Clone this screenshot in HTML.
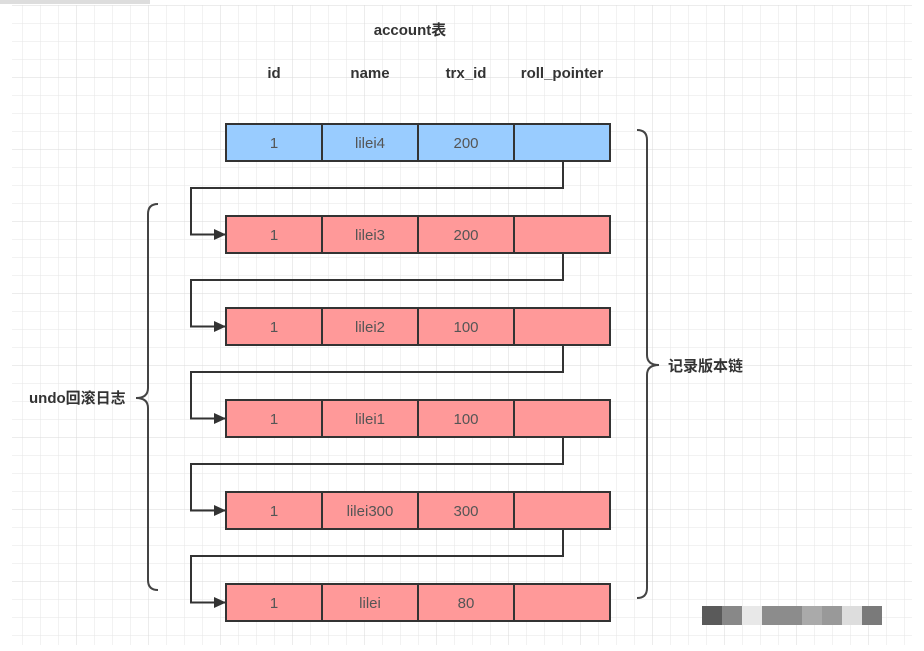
<!DOCTYPE html>
<html><head><meta charset="utf-8"><style>
html,body{margin:0;padding:0;background:#fff;}
svg{display:block;}
text{font-family:"Liberation Sans","Noto Sans CJK SC",sans-serif;}
</style></head><body>
<svg width="924" height="651" viewBox="0 0 924 651" xmlns="http://www.w3.org/2000/svg">
<defs>
<pattern id="g" x="4" y="5" width="18" height="18" patternUnits="userSpaceOnUse">
<path d="M0 0H18M0 0V18" stroke="#e6e6e6" stroke-width="1" fill="none"/>
</pattern>
<pattern id="G" x="4" y="5" width="72" height="72" patternUnits="userSpaceOnUse">
<path d="M0 0H72M0 0V72" stroke="#dadada" stroke-width="1" fill="none"/>
</pattern>
<marker id="a" markerWidth="12" markerHeight="12" refX="11" refY="6" orient="auto" markerUnits="userSpaceOnUse">
<path d="M0 0.5L12 6L0 11.5Z" fill="#333"/>
</marker>
</defs>
<rect x="12" y="5" width="900" height="640" fill="url(#g)"/>
<rect x="12" y="5" width="900" height="640" fill="url(#G)"/>
<rect x="0" y="0" width="150" height="4" fill="#ddd"/>
<text x="410" y="35" font-size="15" font-weight="bold" fill="#333" text-anchor="middle">account表</text>
<g font-size="15" font-weight="bold" fill="#333" text-anchor="middle">
<text x="274" y="78">id</text><text x="370" y="78">name</text><text x="466" y="78">trx_id</text><text x="562" y="78">roll_pointer</text>
</g>
<g stroke="#333" stroke-width="2">
<rect x="226" y="124" width="96" height="37" fill="#99ccff"/><rect x="322" y="124" width="96" height="37" fill="#99ccff"/><rect x="418" y="124" width="96" height="37" fill="#99ccff"/><rect x="514" y="124" width="96" height="37" fill="#99ccff"/>
</g>
<g font-size="15" fill="#555" text-anchor="middle">
<text x="274" y="148">1</text><text x="370" y="148">lilei4</text><text x="466" y="148">200</text>
</g>
<g stroke="#333" stroke-width="2" fill="#ff9999">
<rect x="226" y="216" width="96" height="37"/><rect x="322" y="216" width="96" height="37"/><rect x="418" y="216" width="96" height="37"/><rect x="514" y="216" width="96" height="37"/>
<rect x="226" y="308" width="96" height="37"/><rect x="322" y="308" width="96" height="37"/><rect x="418" y="308" width="96" height="37"/><rect x="514" y="308" width="96" height="37"/>
<rect x="226" y="400" width="96" height="37"/><rect x="322" y="400" width="96" height="37"/><rect x="418" y="400" width="96" height="37"/><rect x="514" y="400" width="96" height="37"/>
<rect x="226" y="492" width="96" height="37"/><rect x="322" y="492" width="96" height="37"/><rect x="418" y="492" width="96" height="37"/><rect x="514" y="492" width="96" height="37"/>
<rect x="226" y="584" width="96" height="37"/><rect x="322" y="584" width="96" height="37"/><rect x="418" y="584" width="96" height="37"/><rect x="514" y="584" width="96" height="37"/>
</g>
<g font-size="15" fill="#555" text-anchor="middle">
<text x="274" y="240">1</text><text x="370" y="240">lilei3</text><text x="466" y="240">200</text>
<text x="274" y="332">1</text><text x="370" y="332">lilei2</text><text x="466" y="332">100</text>
<text x="274" y="424">1</text><text x="370" y="424">lilei1</text><text x="466" y="424">100</text>
<text x="274" y="516">1</text><text x="370" y="516">lilei300</text><text x="466" y="516">300</text>
<text x="274" y="608">1</text><text x="370" y="608">lilei</text><text x="466" y="608">80</text>
</g>
<g stroke="#333" stroke-width="2" fill="none" marker-end="url(#a)">
<path d="M563 161V188H191V234.5H225"/>
<path d="M563 253V280H191V326.5H225"/>
<path d="M563 345V372H191V418.5H225"/>
<path d="M563 437V464H191V510.5H225"/>
<path d="M563 529V556H191V602.5H225"/>
</g>
<g stroke="#444" stroke-width="2" fill="none">
<path d="M158 204Q148 204 148 214V388Q148 398 136 398Q148 398 148 408V580Q148 590 158 590"/>
<path d="M637 130Q647 130 647 140V355Q647 365 659 365Q647 365 647 375V588Q647 598 637 598"/>
</g>
<text x="29" y="403" font-size="15" font-weight="bold" fill="#333">undo回滚日志</text>
<text x="668" y="371" font-size="15" font-weight="bold" fill="#333">记录版本链</text>
<g>
<rect x="702" y="606" width="20" height="19" fill="#5a5a5a"/><rect x="722" y="606" width="20" height="19" fill="#888"/><rect x="742" y="606" width="20" height="19" fill="#e8e8e8"/><rect x="762" y="606" width="40" height="19" fill="#8c8c8c"/><rect x="802" y="606" width="20" height="19" fill="#aaa"/><rect x="822" y="606" width="20" height="19" fill="#999"/><rect x="842" y="606" width="20" height="19" fill="#ddd"/><rect x="862" y="606" width="20" height="19" fill="#7a7a7a"/>
</g>
</svg>
</body></html>
